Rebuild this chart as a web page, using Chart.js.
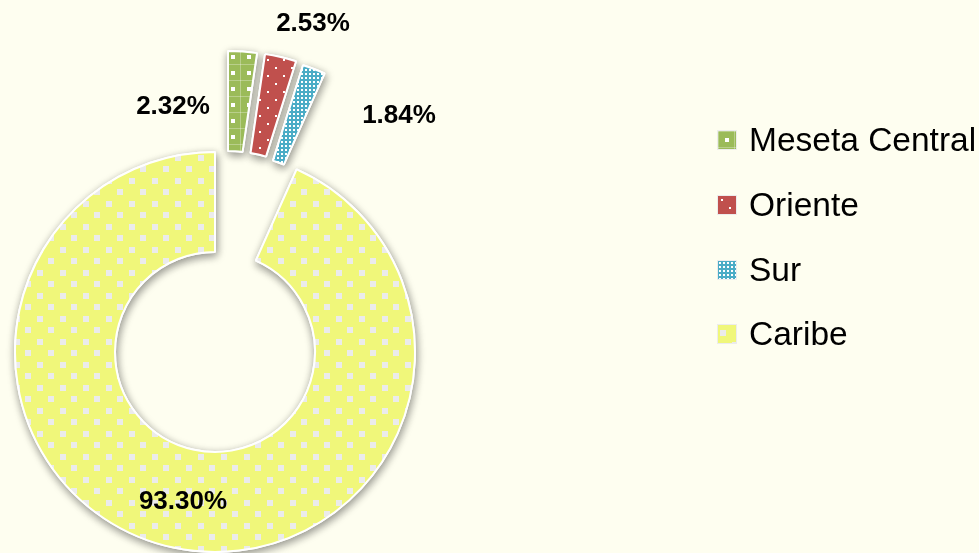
<!DOCTYPE html>
<html>
<head>
<meta charset="utf-8">
<script src="https://cdn.jsdelivr.net/npm/chart.js@4.4.1/dist/chart.umd.min.js"></script>
<style>
  body { margin: 0; background: #fefef0; }
  #wrap { position: relative; width: 979px; height: 553px; overflow: hidden; }
  #legend {
    position: absolute; left: 717px; top: 108px;
    font-family: 'Liberation Sans', Arial, sans-serif; font-size: 33.5px; color: #000;
  }
  .item { display: flex; align-items: center; height: 64.7px; white-space: nowrap; }
  .item canvas { border: 1px solid #ececec; margin-right: 12px; }
</style>
</head>
<body>
<div id="wrap">
  <canvas id="chart-zonas" width="979" height="553"></canvas>
  <div id="legend"></div>
</div>
<script>
const regions = ['Meseta Central', 'Oriente', 'Sur', 'Caribe'];
const shares = [2.32, 2.53, 1.84, 93.30];

// pattern tiles, one per region
const tiles = [
  { size: 16, bg: '#9bbb59', draw(g) {
      g.fillStyle = 'rgba(255,255,255,0.3)';
      g.fillRect(0, 0, 16, 1);
      g.fillRect(0, 0, 1, 16);
      g.fillStyle = '#ffffff';
      g.fillRect(7, 7, 4, 4);
  }},
  { size: 16, bg: '#c0504d', draw(g) {
      g.fillStyle = '#ffffff';
      g.fillRect(3, 3, 2, 2);
      g.fillRect(11, 11, 2, 2);
  }},
  { size: 4, bg: '#4bacc6', draw(g) {
      g.fillStyle = '#ffffff';
      g.fillRect(1, 1, 2, 2);
  }},
  { size: 23, bg: '#f0f77a', draw(g) {
      g.fillStyle = '#ebebeb';
      g.fillRect(2, 5, 6, 6);
      g.fillRect(14, 17, 6, 6);
  }}
];

function tileCanvas(t) {
  const c = document.createElement('canvas');
  c.width = t.size; c.height = t.size;
  const g = c.getContext('2d');
  g.fillStyle = t.bg;
  g.fillRect(0, 0, t.size, t.size);
  t.draw(g);
  return c;
}

// pull the small slices out of the ring (moves the arc centre, shape unchanged)
const explodeSlices = {
  id: 'explodeSlices',
  afterUpdate(chart, args, opts) {
    chart.getDatasetMeta(0).data.forEach((arc, i) => {
      const s = opts.shift[i];
      if (!s) return;
      arc.x += s[0];
      arc.y += s[1];
    });
  }
};

// soft drop shadow: draw once with shadow, then the normal pass covers it
const sliceShadow = {
  id: 'sliceShadow',
  beforeDatasetDraw(chart, args) {
    const ctx = chart.ctx;
    ctx.save();
    ctx.shadowColor = 'rgba(0,0,0,0.42)';
    ctx.shadowBlur = 8;
    ctx.shadowOffsetX = 1;
    ctx.shadowOffsetY = 3;
    args.meta.controller.draw();
    ctx.restore();
  }
};

const shareLabels = {
  id: 'shareLabels',
  afterDatasetsDraw(chart, args, opts) {
    const { ctx, chartArea } = chart;
    const cx = (chartArea.left + chartArea.right) / 2;
    const cy = (chartArea.top + chartArea.bottom) / 2;
    ctx.save();
    ctx.font = 'bold 26px "Liberation Sans", Arial, sans-serif';
    ctx.fillStyle = '#000000';
    ctx.textAlign = 'center';
    ctx.textBaseline = 'middle';
    shares.forEach((v, i) => {
      const o = opts.offsets[i];
      ctx.fillText(v.toFixed(2) + '%', cx + o[0], cy + o[1]);
    });
    ctx.restore();
  }
};

function loadChart() {
  const ctx = document.getElementById('chart-zonas').getContext('2d');
  const patterns = tiles.map(t => ctx.createPattern(tileCanvas(t), 'repeat'));

  new Chart(ctx, {
    type: 'doughnut',
    data: {
      labels: regions,
      datasets: [{
        data: shares,
        backgroundColor: patterns,
        borderColor: '#ffffff',
        borderWidth: 2,
        hoverOffset: 0
      }]
    },
    options: {
      responsive: false,
      animation: false,
      cutout: '50%',
      radius: 200,
      layout: { padding: { left: 0, right: 549, top: 151, bottom: 0 } },
      events: [],
      plugins: {
        legend: { display: false },
        tooltip: { enabled: false },
        explodeSlices: { shift: [[13, -101], [21, -100], [28, -96]] },
        shareLabels: { offsets: [[-42, -245], [98, -328], [184, -236], [-32, 150]] }
      }
    },
    plugins: [explodeSlices, sliceShadow, shareLabels]
  });

  // legend
  const legend = document.getElementById('legend');
  regions.forEach((name, i) => {
    const row = document.createElement('div');
    row.className = 'item';
    const sw = document.createElement('canvas');
    sw.width = 18; sw.height = 18;
    const g = sw.getContext('2d');
    g.fillStyle = g.createPattern(tileCanvas(tiles[i]), 'repeat');
    g.fillRect(0, 0, 18, 18);
    const label = document.createElement('span');
    label.textContent = name;
    row.appendChild(sw);
    row.appendChild(label);
    legend.appendChild(row);
  });
}

document.addEventListener('DOMContentLoaded', loadChart);
</script>
</body>
</html>
